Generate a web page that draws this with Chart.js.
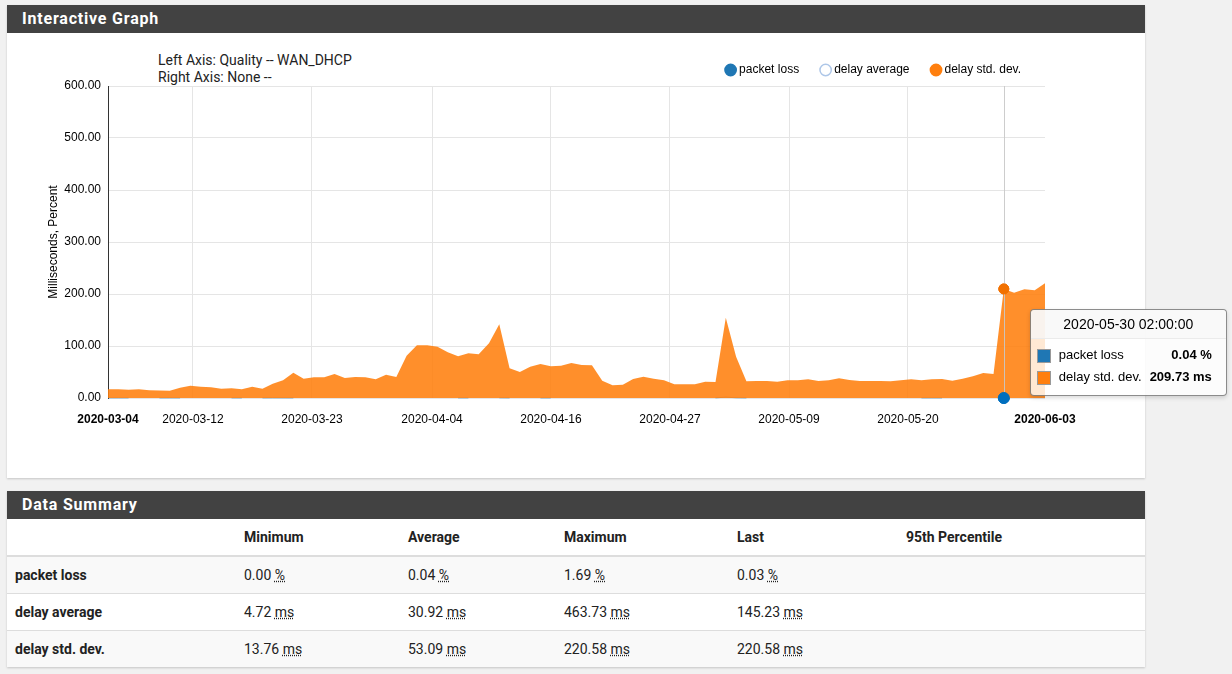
<!DOCTYPE html>
<html>
<head>
<meta charset="utf-8">
<title>Interactive Graph</title>
<script src="https://cdn.jsdelivr.net/npm/chart.js@4.4.1/dist/chart.umd.min.js"></script>
<style>
  html, body { margin: 0; padding: 0; }
  body {
    width: 1232px; height: 674px; overflow: hidden; position: relative;
    background: #f1f1f1; font-family: Roboto, "Liberation Sans", Arial, sans-serif; color: #212121;
  }
  .panel {
    position: absolute; left: 7px; width: 1138px; background: #fff;
    box-shadow: 0 1px 2px rgba(0, 0, 0, 0.18);
  }
  #p1 { top: 5px; height: 473px; }
  #p2 { top: 491px; height: 176px; }
  .hd {
    background: #424242; color: #fff; font-weight: 700; font-size: 16px;
    height: 28px; line-height: 28px; padding-left: 15px; letter-spacing: 0.8px;
  }
  .axis-note {
    position: absolute; left: 151px; top: 47px; font-size: 14px; line-height: 17px; color: #222;
  }
  #chartBox { position: absolute; left: 0; top: 28px; width: 1138px; height: 445px; }

  table.summary { width: 1138px; border-collapse: collapse; table-layout: fixed; font-size: 14px; }
  table.summary th, table.summary td { text-align: left; padding: 0 0 0 8px; color: #222; }
  table.summary th { height: 36px; font-weight: 700; border-bottom: 2px solid #ddd; }
  table.summary td { height: 36px; border-top: 1px solid #ddd; }
  table.summary td:first-child { font-weight: 700; }
  table.summary tr.odd td { background: #f9f9f9; }
  abbr { text-decoration: underline dotted; }

  #tip {
    position: absolute; display: none; width: 197px; box-sizing: border-box;
    background: rgba(255, 255, 255, 0.8); border: 1px solid rgba(0, 0, 0, 0.45); border-radius: 4px;
    box-shadow: 0 2px 4px rgba(0, 0, 0, 0.15);
    font-family: "Liberation Sans", Arial, sans-serif; font-size: 13px; color: #000; z-index: 10;
  }
  #tip .tt-title {
    background: rgba(247, 247, 247, 0.75); border-bottom: 1px solid #ebebeb; border-radius: 4px 4px 0 0;
    height: 28px; line-height: 28px; text-align: center; font-size: 14px;
  }
  #tip table { border-collapse: collapse; width: 175px; margin: 5px 0 7px 6px; }
  #tip td { height: 22px; padding: 0; }
  #tip .sw { display: inline-block; width: 12px; height: 12px; border: 1px solid #999; vertical-align: middle; }
  #tip td:first-child { width: 14px; }
  #tip .k { padding-left: 8px; white-space: nowrap; }
  #tip .v { text-align: right; font-weight: 700; white-space: nowrap; }
</style>
</head>
<body>

<div class="panel" id="p1">
  <div class="hd">Interactive Graph</div>
  <div class="axis-note">Left Axis: Quality -- WAN_DHCP<br>Right Axis: None --</div>
  <div id="chartBox"><canvas id="qualityChart"></canvas></div>
</div>

<div class="panel" id="p2">
  <div class="hd">Data Summary</div>
  <table class="summary">
    <colgroup><col style="width:229px"><col style="width:164px"><col style="width:156px"><col style="width:173px"><col style="width:169px"><col></colgroup>
    <tr><th></th><th>Minimum</th><th>Average</th><th>Maximum</th><th>Last</th><th>95th Percentile</th></tr>
    <tr class="odd"><td>packet loss</td><td>0.00 <abbr>%</abbr></td><td>0.04 <abbr>%</abbr></td><td>1.69 <abbr>%</abbr></td><td>0.03 <abbr>%</abbr></td><td></td></tr>
    <tr><td>delay average</td><td>4.72 <abbr>ms</abbr></td><td>30.92 <abbr>ms</abbr></td><td>463.73 <abbr>ms</abbr></td><td>145.23 <abbr>ms</abbr></td><td></td></tr>
    <tr class="odd"><td>delay std. dev.</td><td>13.76 <abbr>ms</abbr></td><td>53.09 <abbr>ms</abbr></td><td>220.58 <abbr>ms</abbr></td><td>220.58 <abbr>ms</abbr></td><td></td></tr>
  </table>
</div>

<div id="tip"></div>

<script>
// daily samples, the first one on 2020-03-04 02:00
const sampleStart = Date.UTC(2020, 2, 4, 2, 0, 0);

// x axis ticks, in days after the first sample
const tickDays = [0, 8.25, 19.81, 31.47, 43.02, 54.58, 66.14, 77.69, 91];
const tickLabels = ['2020-03-04', '2020-03-12', '2020-03-23', '2020-04-04', '2020-04-16',
                    '2020-04-27', '2020-05-09', '2020-05-20', '2020-06-03'];

// packet loss (%), null where nothing was lost
const packetLoss = [
  0.12, 0.08, 0.10, null, null, 0.09, 0.15, 0.07, null, null,
  null, null, 0.11, 0.06, null, 0.08, 0.21, 0.13, 0.05, null,
  null, null, null, null, null, null, null, null, null, null,
  null, null, null, null, 0.10, 0.07, null, null, 0.35, 0.12,
  null, null, 0.09, 0.06, null, null, null, null, null, null,
  null, null, null, null, null, null, null, null, null, 0.18,
  1.69, 0.42, 0.08, null, null, null, null, null, null, null,
  null, null, null, null, null, null, null, null, null, 0.07,
  0.12, 0.05, null, null, null, null, null, 0.04, null, null,
  null, 0.03
];

// delay average is switched off in the legend, so it is not drawn
const delayAverage = [];

// delay std. dev. (ms)
const delayStdDev = [
  16.7, 16.7, 16.0, 16.7, 14.7, 14.5, 13.76, 19.9, 23.7, 21.8,
  20.5, 17.9, 18.6, 16.7, 21.8, 17.9, 27.5, 34.0, 48.7, 37.2,
  39.7, 39.7, 46.2, 38.5, 40.4, 39.7, 35.9, 44.9, 40.4, 81.4,
  101.3, 101.3, 98.7, 87.8, 80.1, 85.9, 84.0, 105.1, 141.7, 57.0,
  50.0, 60.3, 65.4, 60.9, 62.2, 67.3, 63.5, 62.8, 33.3, 24.4,
  25.6, 36.5, 41.0, 37.2, 34.0, 26.3, 26.3, 26.3, 31.4, 30.8,
  154.5, 79.5, 32.1, 32.7, 32.7, 31.4, 34.0, 34.0, 35.9, 32.7,
  34.0, 37.8, 34.6, 32.7, 32.7, 32.7, 32.1, 34.0, 35.9, 34.0,
  35.9, 36.5, 33.3, 37.2, 41.7, 48.1, 46.2, 209.73, 202.5, 209.0,
  207.0, 220.58
];

// sample the guideline sits on
const hoverIndex = 87;

const BLUE = '#1f77b4';
const ORANGE = '#ff7f0e';

const toPoints = arr => arr.map((v, i) => ({ x: i, y: v }));

function fmtStamp(i) {
  const d = new Date(sampleStart + i * 86400000);
  const p = n => String(n).padStart(2, '0');
  return d.getUTCFullYear() + '-' + p(d.getUTCMonth() + 1) + '-' + p(d.getUTCDate()) + ' ' +
         p(d.getUTCHours()) + ':' + p(d.getUTCMinutes()) + ':' + p(d.getUTCSeconds());
}

// vertical guideline, and the hovered points drawn on top of everything
const guideLine = {
  id: 'guideLine',
  afterDatasetsDraw(chart) {
    const active = chart.getActiveElements();
    if (!active.length) return;
    const { ctx, chartArea } = chart;
    const x = Math.round(active[0].element.x) + 0.5;
    ctx.save();
    ctx.strokeStyle = 'rgba(200, 200, 200, 0.9)';
    ctx.lineWidth = 1;
    ctx.beginPath();
    ctx.moveTo(x, chartArea.top);
    ctx.lineTo(x, chartArea.bottom);
    ctx.stroke();
    active.forEach(a => a.element.draw(ctx));
    ctx.restore();
  }
};

function externalTip({ chart, tooltip }) {
  const tip = document.getElementById('tip');
  if (!tooltip.opacity || !tooltip.dataPoints || !tooltip.dataPoints.length) {
    tip.style.display = 'none';
    return;
  }
  const pts = tooltip.dataPoints.slice().sort((a, b) => a.datasetIndex - b.datasetIndex);
  const i = pts[0].dataIndex;
  let rows = '';
  pts.forEach(p => {
    const ds = chart.data.datasets[p.datasetIndex];
    rows += '<tr><td><span class="sw" style="background:' + ds.swatch + '"></span></td>' +
            '<td class="k">' + ds.label + '</td>' +
            '<td class="v">' + p.parsed.y.toFixed(2) + ' ' + ds.unit + '</td></tr>';
  });
  tip.innerHTML = '<div class="tt-title">' + fmtStamp(i) + '</div><table>' + rows + '</table>';
  const rect = chart.canvas.getBoundingClientRect();
  const anchor = chart.getDatasetMeta(2).data[i];
  tip.style.left = (rect.left + anchor.x + 26) + 'px';
  tip.style.top = (rect.top + anchor.y + 20) + 'px';
  tip.style.display = 'block';
}

const chart = new Chart(document.getElementById('qualityChart'), {
  type: 'line',
  data: {
    datasets: [
      {
        label: 'packet loss', unit: '%', swatch: BLUE,
        legendFill: BLUE, legendStroke: BLUE,
        data: toPoints(packetLoss),
        borderColor: 'rgba(31, 119, 180, 0.55)', borderWidth: 1,
        pointRadius: 0, pointHoverRadius: 5.5,
        pointBackgroundColor: BLUE, pointBorderColor: BLUE, pointHoverBorderWidth: 1,
        tension: 0, clip: false, order: 2
      },
      {
        label: 'delay average', unit: 'ms', swatch: '#aec7e8',
        legendFill: '#ffffff', legendStroke: '#aec7e8',
        data: toPoints(delayAverage), hidden: true,
        borderColor: '#aec7e8', pointRadius: 0, order: 1
      },
      {
        label: 'delay std. dev.', unit: 'ms', swatch: ORANGE,
        legendFill: ORANGE, legendStroke: ORANGE,
        data: toPoints(delayStdDev),
        fill: 'origin', backgroundColor: 'rgba(255, 127, 14, 0.88)',
        borderColor: 'rgba(0, 0, 0, 0)', borderWidth: 0,
        pointRadius: 0, pointHoverRadius: 5,
        pointBackgroundColor: ORANGE, pointBorderColor: ORANGE, pointHoverBorderWidth: 1,
        tension: 0, order: 0
      }
    ]
  },
  options: {
    responsive: true,
    maintainAspectRatio: false,
    animation: false,
    events: [],
    layout: { padding: { top: 7, right: 100, left: 0, bottom: 0 } },
    plugins: {
      legend: {
        position: 'top',
        align: 'end',
        labels: {
          usePointStyle: true, boxWidth: 5, boxHeight: 8, padding: 24, color: '#000',
          font: { family: 'Liberation Sans', size: 12 },
          generateLabels: c => c.data.datasets.map((ds, i) => ({
            text: ds.label, fillStyle: ds.legendFill, strokeStyle: ds.legendStroke,
            lineWidth: 1.5, pointStyle: 'circle', hidden: false, datasetIndex: i, fontColor: '#000'
          }))
        }
      },
      tooltip: { enabled: false, animation: false, external: externalTip }
    },
    scales: {
      x: {
        type: 'linear', min: 0, max: 91,
        afterBuildTicks: s => { s.ticks = tickDays.map(v => ({ value: v })); },
        afterFit: s => { s.height = 80; },
        border: { display: false },
        grid: {
          drawTicks: false,
          color: c => (c.index === 0 || c.index === tickDays.length - 1) ? 'rgba(0,0,0,0)' : '#e5e5e5'
        },
        ticks: {
          autoSkip: false, maxRotation: 0, padding: 14, color: '#000',
          font: c => ({
            family: 'Liberation Sans', size: 12,
            weight: (c.index === 0 || c.index === tickLabels.length - 1) ? 'bold' : 'normal'
          }),
          callback: (v, i) => tickLabels[i]
        }
      },
      y: {
        min: 0, max: 600,
        afterFit: s => { s.width = 101; },
        border: { display: true, color: '#333', width: 1 },
        grid: { drawTicks: false, color: '#e5e5e5' },
        ticks: {
          stepSize: 100, padding: 7, color: '#000',
          font: { family: 'Liberation Sans', size: 12 },
          callback: v => v.toFixed(2)
        },
        title: {
          display: true, text: 'Milliseconds, Percent', color: '#000',
          font: { family: 'Liberation Sans', size: 12 },
          padding: { top: 39, bottom: 0 }
        }
      }
    }
  },
  plugins: [guideLine]
});

const active = [{ datasetIndex: 0, index: hoverIndex }, { datasetIndex: 2, index: hoverIndex }];
chart.setActiveElements(active);
const hp = chart.getDatasetMeta(2).data[hoverIndex];
chart.tooltip.setActiveElements(active, { x: hp.x, y: hp.y });
chart.update();
</script>
</body>
</html>
